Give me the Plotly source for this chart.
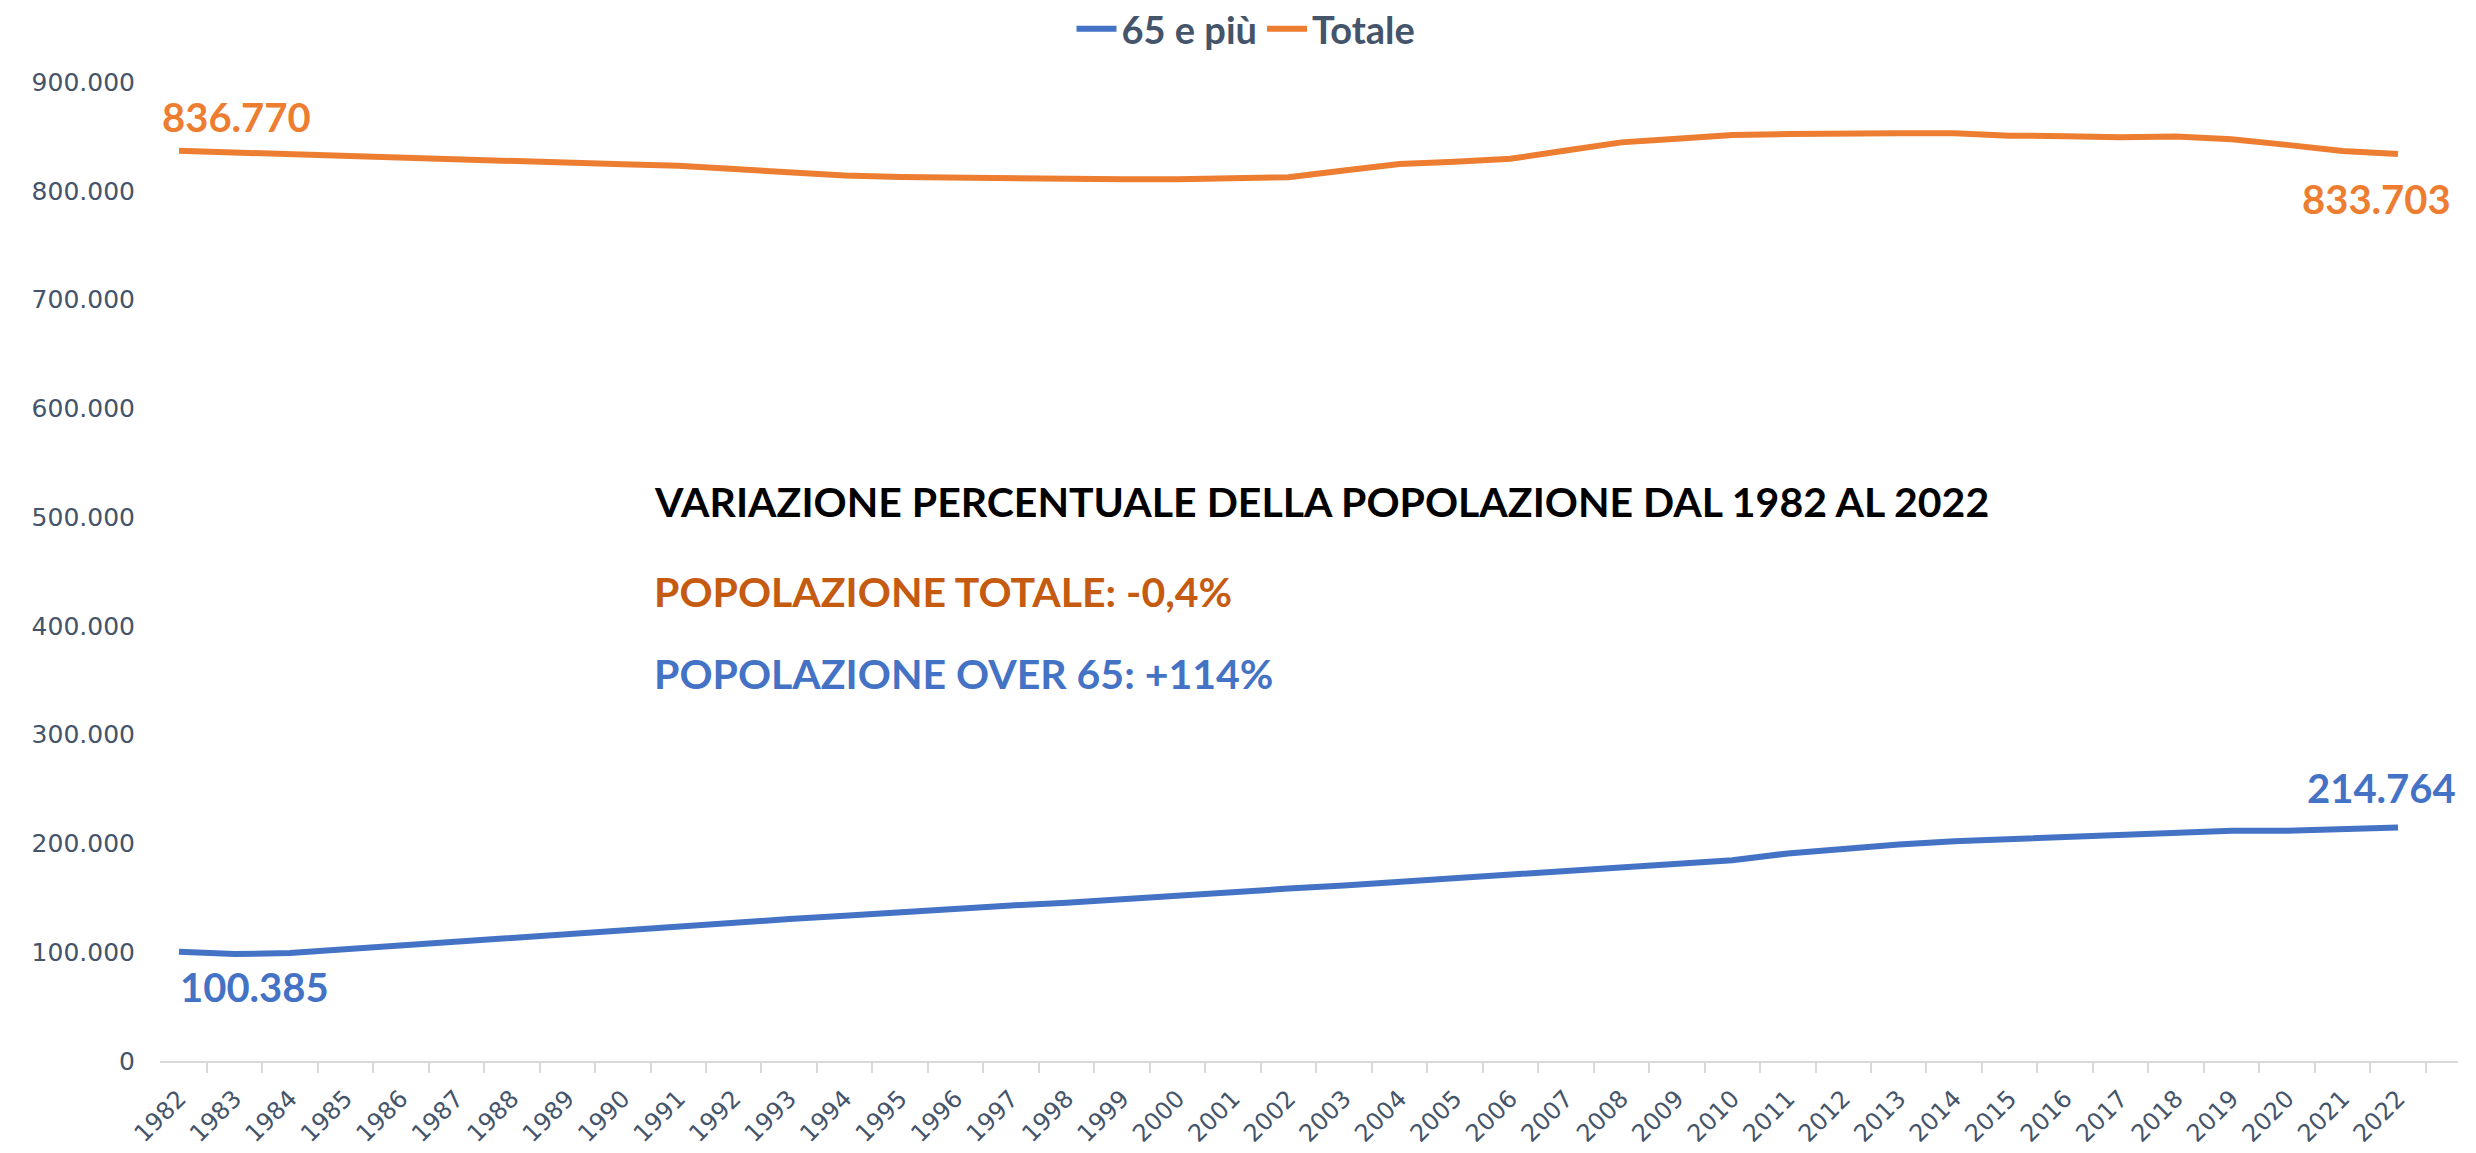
import plotly.graph_objects as go

YEARS = [str(y) for y in range(1982, 2023)]

OVER_65 = [
    100385, 98300, 99200, 102800, 105500, 109000, 112500, 116000, 120000, 123500,
    127000, 130500, 133500, 137000, 140000, 143000, 145500, 149000, 152000, 155500,
    158500, 161400, 164800, 168100, 171500, 174900, 178600, 182300, 184600, 190800,
    195000, 199000, 202000, 204000, 206000, 207700, 209500, 211700, 211700, 213200,
    214764,
]

TOTALE = [
    836770, 835100, 833400, 831700, 830000, 828200, 826500, 825100, 824300, 823100,
    820300, 816900, 814000, 812600, 811800, 811200, 810600, 810600, 810600, 811200,
    812400, 818600, 824600, 826600, 829400, 837100, 844500, 847900, 851300, 852200,
    853000, 853000, 853000, 850700, 850200, 849300, 849900, 847300, 842200, 836500,
    833703,
]

BLUE = "#4472C4"
ORANGE = "#ED7D31"
SLATE = "#44546A"
BOLD_FONT = "Lato"
TICK_FONT = "DejaVu Sans"


def fmt(v):
    return f"{v:,}".replace(",", ".")


def build_figure():
    fig = go.Figure()
    fig.add_trace(go.Scatter(
        x=YEARS, y=OVER_65, name="65 e più", mode="lines",
        line=dict(color=BLUE, width=6),
    ))
    fig.add_trace(go.Scatter(
        x=YEARS, y=TOTALE, name="Totale", mode="lines",
        line=dict(color=ORANGE, width=6),
    ))

    first, last = 0, len(YEARS) - 1  # category positions on the x axis
    label_font = dict(family=BOLD_FONT, size=40, color=ORANGE, weight="bold")
    blue_font = dict(family=BOLD_FONT, size=40, color=BLUE, weight="bold")
    # end point labels
    fig.add_annotation(x=first, y=TOTALE[0], text=fmt(TOTALE[0]), showarrow=False,
                       xanchor="left", yanchor="bottom", xshift=-19, yshift=8, font=label_font)
    fig.add_annotation(x=last, y=TOTALE[-1], text=fmt(TOTALE[-1]), showarrow=False,
                       xanchor="right", yanchor="top", xshift=55, yshift=-19, font=label_font)
    fig.add_annotation(x=first, y=OVER_65[0], text=fmt(OVER_65[0]), showarrow=False,
                       xanchor="left", yanchor="top", xshift=-1, yshift=-9, font=blue_font)
    fig.add_annotation(x=last, y=OVER_65[-1], text=fmt(OVER_65[-1]), showarrow=False,
                       xanchor="right", yanchor="bottom", xshift=60, yshift=13, font=blue_font)

    notes = [
        ("VARIAZIONE PERCENTUALE DELLA POPOLAZIONE DAL 1982 AL 2022", "#000000", 0.571),
        ("POPOLAZIONE TOTALE: -0,4%", "#C55A11", 0.480),
        ("POPOLAZIONE OVER 65: +114%", BLUE, 0.396),
    ]
    for text, color, ypos in notes:
        fig.add_annotation(x=0.214, y=ypos, xref="paper", yref="paper", text=text,
                           showarrow=False, xanchor="left", yanchor="middle",
                           font=dict(family=BOLD_FONT, size=41, color=color, weight="bold"))

    fig.update_layout(
        width=2476, height=1153,
        margin=dict(l=152, r=26, t=74, b=100, autoexpand=False),
        paper_bgcolor="white", plot_bgcolor="white",
        separators=",.",
        showlegend=True,
        legend=dict(
            orientation="h", xref="container", yref="paper",
            x=0.5, xanchor="center", y=1.054, yanchor="middle",
            font=dict(family=BOLD_FONT, size=38, color=SLATE, weight="bold"),
            itemwidth=40, tracegroupgap=0,
        ),
        xaxis=dict(
            type="category", tickson="boundaries", ticks="outside", ticklen=10,
            tickcolor="#D9D9D9", tickwidth=2, showline=True, linecolor="#D9D9D9",
            linewidth=2, showgrid=False, tickangle=-45, automargin=False,
            ticklabelstandoff=12,
            tickfont=dict(family=TICK_FONT, size=24, color=SLATE),
        ),
        yaxis=dict(
            range=[0, 900000], dtick=100000, tickformat=",d", showgrid=False,
            zeroline=False, showline=False, ticklabelstandoff=24, automargin=False,
            tickfont=dict(family=TICK_FONT, size=25, color=SLATE),
        ),
    )
    return fig


def main():
    fig = build_figure()
    fig.write_html("out.html")


if __name__ == "__main__":
    main()
